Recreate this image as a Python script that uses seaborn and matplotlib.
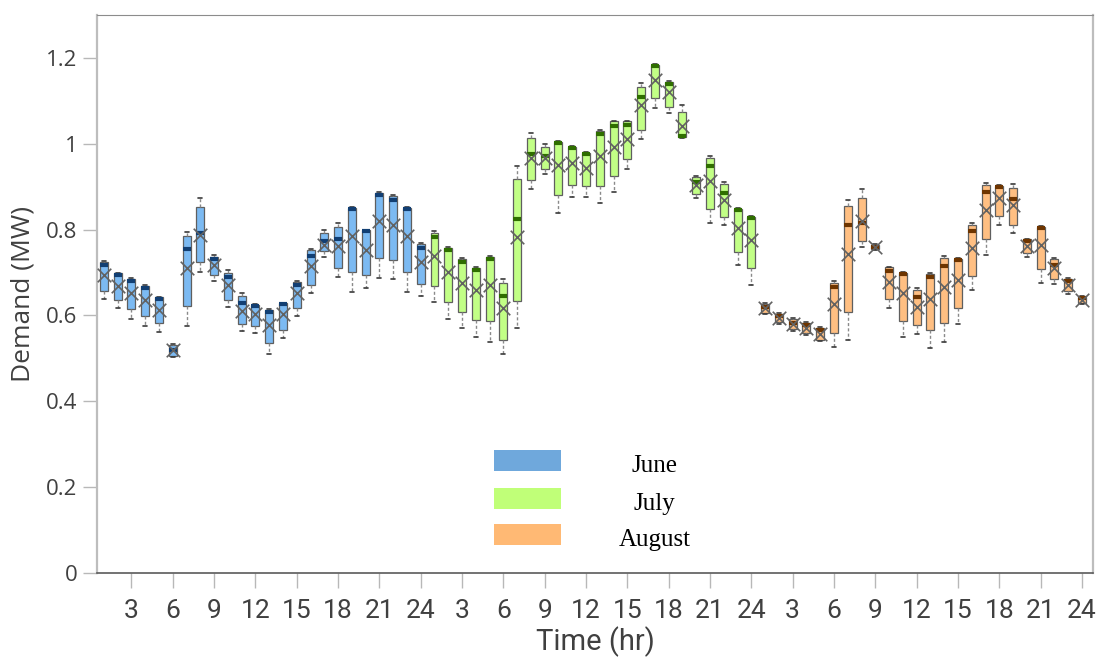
import numpy as np
import pandas as pd
import matplotlib
matplotlib.use("Agg")
import matplotlib.pyplot as plt
from matplotlib import font_manager
from matplotlib.patches import Rectangle
from matplotlib.ticker import FixedLocator, FuncFormatter
import seaborn as sns

# ---------------------------------------------------------------------------
# Hourly demand statistics (MW) for each month: whisker low, Q1, median,
# Q3, whisker high and mean, hours 1..24
# ---------------------------------------------------------------------------
months = ["June", "July", "August"]
hours = list(range(1, 25))

june_lo = [0.638, 0.617, 0.591, 0.576, 0.561, 0.504, 0.576, 0.702, 0.681, 0.619, 0.564, 0.560,
           0.510, 0.547, 0.599, 0.652, 0.737, 0.689, 0.655, 0.663, 0.687, 0.684, 0.655, 0.645]
june_q1 = [0.657, 0.636, 0.614, 0.599, 0.582, 0.506, 0.622, 0.725, 0.694, 0.636, 0.580, 0.576,
           0.535, 0.566, 0.617, 0.671, 0.751, 0.710, 0.702, 0.694, 0.733, 0.729, 0.702, 0.673]
june_med = [0.717, 0.694, 0.681, 0.663, 0.638, 0.520, 0.755, 0.793, 0.732, 0.689, 0.630, 0.623,
            0.609, 0.626, 0.671, 0.739, 0.773, 0.778, 0.848, 0.796, 0.881, 0.868, 0.847, 0.757]
june_q3 = [0.725, 0.698, 0.685, 0.669, 0.642, 0.531, 0.784, 0.852, 0.737, 0.700, 0.646, 0.624,
           0.613, 0.628, 0.679, 0.753, 0.793, 0.805, 0.850, 0.798, 0.886, 0.878, 0.850, 0.767]
june_hi = [0.728, 0.700, 0.687, 0.671, 0.644, 0.533, 0.795, 0.873, 0.740, 0.705, 0.652, 0.626,
           0.615, 0.630, 0.681, 0.755, 0.798, 0.816, 0.852, 0.800, 0.888, 0.880, 0.852, 0.769]
june_mean = [0.694, 0.669, 0.652, 0.635, 0.613, 0.520, 0.710, 0.788, 0.718, 0.671, 0.611, 0.603,
             0.578, 0.603, 0.652, 0.715, 0.764, 0.762, 0.784, 0.753, 0.819, 0.811, 0.785, 0.725]

july_lo = [0.632, 0.591, 0.570, 0.551, 0.539, 0.510, 0.570, 0.894, 0.929, 0.839, 0.877, 0.877,
           0.861, 0.888, 0.941, 1.010, 1.083, 1.071, 1.013, 0.873, 0.815, 0.811, 0.718, 0.671]
july_q1 = [0.669, 0.631, 0.609, 0.589, 0.586, 0.543, 0.634, 0.916, 0.941, 0.881, 0.904, 0.902,
           0.902, 0.926, 0.964, 1.032, 1.106, 1.085, 1.015, 0.883, 0.847, 0.830, 0.749, 0.710]
july_med = [0.782, 0.753, 0.725, 0.706, 0.732, 0.645, 0.824, 0.975, 0.972, 1.001, 0.989, 0.975,
            1.023, 1.041, 1.044, 1.108, 1.181, 1.139, 1.019, 0.912, 0.948, 0.885, 0.845, 0.826]
july_q3 = [0.793, 0.757, 0.731, 0.710, 0.736, 0.675, 0.917, 1.013, 0.992, 1.005, 0.993, 0.979,
           1.030, 1.052, 1.052, 1.133, 1.184, 1.145, 1.075, 0.922, 0.968, 0.906, 0.848, 0.829]
july_hi = [0.797, 0.760, 0.733, 0.712, 0.738, 0.684, 0.948, 1.026, 0.999, 1.007, 0.995, 0.981,
           1.032, 1.054, 1.054, 1.141, 1.186, 1.147, 1.090, 0.924, 0.972, 0.911, 0.850, 0.831]
july_mean = [0.738, 0.702, 0.675, 0.659, 0.671, 0.617, 0.782, 0.966, 0.966, 0.951, 0.955, 0.943,
             0.972, 0.993, 1.010, 1.090, 1.149, 1.121, 1.041, 0.904, 0.914, 0.869, 0.803, 0.776]

aug_lo = [0.603, 0.580, 0.564, 0.555, 0.540, 0.527, 0.543, 0.759, 0.752, 0.617, 0.551, 0.557,
          0.524, 0.539, 0.580, 0.659, 0.741, 0.811, 0.791, 0.736, 0.675, 0.673, 0.650, 0.626]
aug_q1 = [0.606, 0.584, 0.568, 0.558, 0.543, 0.560, 0.609, 0.774, 0.755, 0.638, 0.586, 0.578,
          0.565, 0.582, 0.617, 0.693, 0.777, 0.832, 0.811, 0.746, 0.708, 0.684, 0.657, 0.628]
aug_med = [0.620, 0.599, 0.582, 0.578, 0.565, 0.667, 0.811, 0.815, 0.760, 0.704, 0.697, 0.644,
           0.689, 0.715, 0.729, 0.797, 0.888, 0.900, 0.871, 0.774, 0.804, 0.718, 0.681, 0.641]
aug_q3 = [0.627, 0.603, 0.591, 0.582, 0.570, 0.676, 0.855, 0.873, 0.764, 0.712, 0.700, 0.659,
          0.697, 0.735, 0.732, 0.811, 0.904, 0.902, 0.896, 0.777, 0.807, 0.731, 0.685, 0.644]
aug_hi = [0.629, 0.605, 0.593, 0.584, 0.572, 0.681, 0.869, 0.894, 0.766, 0.714, 0.702, 0.663,
          0.699, 0.739, 0.734, 0.816, 0.908, 0.904, 0.906, 0.779, 0.809, 0.734, 0.687, 0.645]
aug_mean = [0.617, 0.593, 0.579, 0.570, 0.557, 0.627, 0.743, 0.820, 0.760, 0.679, 0.652, 0.620,
            0.638, 0.667, 0.683, 0.757, 0.846, 0.873, 0.857, 0.762, 0.764, 0.710, 0.671, 0.636]

tick_hours = [3, 6, 9, 12, 15, 18, 21, 24]
y_ticks = [0, 0.2, 0.4, 0.6, 0.8, 1.0, 1.2]

stats = {
    "June": (june_lo, june_q1, june_med, june_q3, june_hi, june_mean),
    "July": (july_lo, july_q1, july_med, july_q3, july_hi, july_mean),
    "August": (aug_lo, aug_q1, aug_med, aug_q3, aug_hi, aug_mean),
}

box_fill = {"June": "#7cbaf2", "July": "#c2ff86", "August": "#ffbf82"}
legend_fill = {"June": "#6fa8dc", "July": "#c0ff78", "August": "#ffb974"}
median_col = {"June": "#123f73", "July": "#2f6e00", "August": "#6e3500"}


def first_font(candidates):
    names = {f.name for f in font_manager.fontManager.ttflist}
    for c in candidates:
        if c in names:
            return c
    return "DejaVu Sans"


narrow = first_font(["Liberation Sans Narrow", "DejaVu Sans Condensed", "Roboto"])
sans = first_font(["Open Sans", "Lato", "DejaVu Sans"])
serif = first_font(["Liberation Serif", "DejaVu Serif"])

# Five-number rows per hour: quartiles of these rows reproduce Q1/median/Q3,
# and whiskers at the 0/100 percentiles reproduce the whisker ends.
rows, mean_rows = [], []
for mi, m in enumerate(months):
    lo, q1, med, q3, hi, mean = stats[m]
    for h in hours:
        k = h - 1
        pos = mi * 24 + k
        for v in (lo[k], q1[k], med[k], q3[k], hi[k]):
            rows.append({"month": m, "pos": pos, "demand": v})
        mean_rows.append({"month": m, "pos": pos, "mean": mean[k]})
df = pd.DataFrame(rows)
means = pd.DataFrame(mean_rows)

sns.set_theme(style="white")
plt.rcParams["font.family"] = [sans, "DejaVu Sans"]

fig = plt.figure(figsize=(11.01, 6.66), dpi=100)
ax = fig.add_axes([0.0881, 0.1396, 0.9046, 0.8379])

for m in months:
    sub = df[df["month"] == m]
    sns.boxplot(
        data=sub, x="pos", y="demand", native_scale=True, width=0.58,
        whis=(0, 100), color=box_fill[m], saturation=1, linecolor="#5f5f5f",
        linewidth=0.9, fliersize=0, ax=ax,
        medianprops=dict(color=median_col[m], linewidth=3.0),
        whiskerprops=dict(color="#8a8a8a", linewidth=1.0, linestyle=(0, (2.2, 1.6))),
        capprops=dict(color="#3a3a3a", linewidth=1.2),
    )

sns.scatterplot(
    data=means, x="pos", y="mean", marker="x", s=95, color="#626262",
    linewidth=1.2, legend=False, ax=ax, zorder=6,
)

# Axes limits, ticks and frame
ax.set_xlim(-0.5, 71.8)
ax.set_ylim(0, 1.30)
xt = [mi * 24 + h - 1 for mi in range(len(months)) for h in tick_hours]
xl = [str(h) for _ in months for h in tick_hours]
ax.xaxis.set_major_locator(FixedLocator(xt))
ax.set_xticklabels(xl, fontfamily=[narrow, "DejaVu Sans"], fontsize=19, color="#404040")
ax.set_yticks(y_ticks)
ax.yaxis.set_major_formatter(FuncFormatter(lambda v, p: f"{v:g}"))
for lab in ax.get_yticklabels():
    lab.set_fontsize(16)
    lab.set_color("#404040")

ax.tick_params(axis="x", direction="out", length=11, width=1, color="#b8b8b8", pad=8,
               bottom=True)
ax.tick_params(axis="y", direction="out", length=10, width=1, color="#b8b8b8", pad=4,
               left=True)

ax.set_xlabel("Time (hr)", fontfamily=[narrow, "DejaVu Sans"], fontsize=21, color="#404040",
              labelpad=2)
ax.set_ylabel("Demand (MW)", fontsize=19, color="#404040", labelpad=8)

for side, col, lw in (("left", "#bdbdbd", 1.6), ("right", "#bdbdbd", 1.6),
                      ("top", "#8c8c8c", 0.8), ("bottom", "#5a5a5a", 1.2)):
    ax.spines[side].set_visible(True)
    ax.spines[side].set_color(col)
    ax.spines[side].set_linewidth(lw)
ax.grid(False)

# Month key: colour swatches with centred month names
key_y = [0.1828, 0.1147, 0.0502]
for m, y0 in zip(months, key_y):
    ax.add_patch(Rectangle((0.3986, y0), 0.0673, 0.038, transform=ax.transAxes,
                           facecolor=legend_fill[m], edgecolor="none", zorder=7))
    ax.text(0.560, y0 + 0.009, m, transform=ax.transAxes, ha="center", va="center",
            fontfamily=[serif, "DejaVu Serif"], fontsize=18, color="black", zorder=7)

fig.savefig("out.png", dpi=100)
